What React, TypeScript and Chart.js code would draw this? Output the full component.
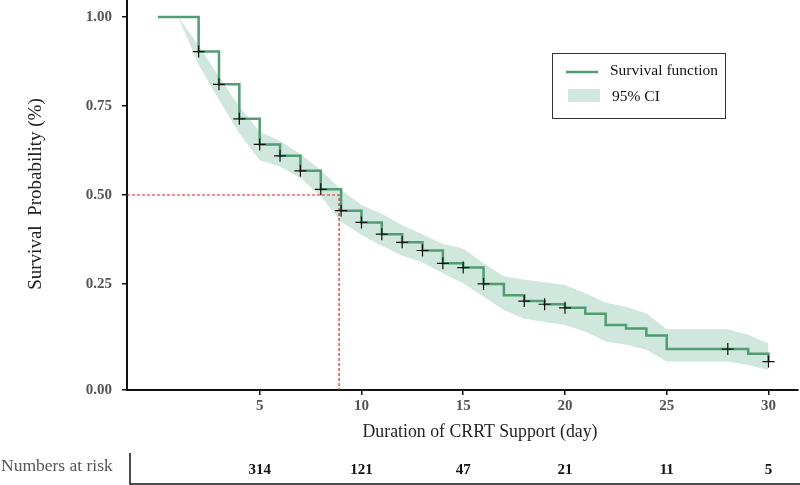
import React, { useEffect, useRef } from "react";
import { Chart, registerables } from "chart.js";
Chart.register(...registerables);

// ---- data ----
const stepDays = [0, 2, 3, 4, 5, 6, 7, 8, 9, 10, 11, 12, 13, 14, 15, 16, 17, 18, 19, 20, 21, 22, 23, 24, 25, 29, 30];
const survival = [1.0, 0.903, 0.811, 0.714, 0.642, 0.61, 0.568, 0.516, 0.456, 0.423, 0.39, 0.367, 0.344, 0.308, 0.296, 0.25, 0.218, 0.202, 0.193, 0.183, 0.166, 0.135, 0.125, 0.105, 0.067, 0.054, 0.032];

const censorDays = [2, 3, 4, 5, 6, 7, 8, 9, 10, 11, 12, 13, 14, 15, 16, 18, 19, 20, 28, 30];
const censorSurvival = [0.903, 0.811, 0.714, 0.642, 0.61, 0.568, 0.516, 0.456, 0.423, 0.39, 0.367, 0.344, 0.308, 0.296, 0.25, 0.202, 0.193, 0.183, 0.067, 0.032];

const ciDays = [0, 1, 2, 3, 4, 5, 6, 7, 8, 9, 10, 11, 12, 13, 14, 15, 16, 17, 18, 19, 20, 21, 22, 23, 24, 25, 28, 29, 30];
const ciUpper = [1.0, 1.0, 0.92, 0.832, 0.748, 0.678, 0.652, 0.615, 0.57, 0.515, 0.472, 0.447, 0.415, 0.39, 0.362, 0.35, 0.308, 0.272, 0.262, 0.255, 0.247, 0.224, 0.198, 0.186, 0.168, 0.123, 0.123, 0.107, 0.083];
const ciLower = [1.0, 1.0, 0.866, 0.768, 0.673, 0.598, 0.58, 0.548, 0.497, 0.425, 0.388, 0.357, 0.33, 0.31, 0.28, 0.252, 0.214, 0.177, 0.152, 0.143, 0.135, 0.116, 0.088, 0.079, 0.065, 0.032, 0.032, 0.022, 0.008];

const medianDay = 8.9;
const medianSurvival = 0.5;

const xTicks = [5, 10, 15, 20, 25, 30];
const yTicks = [0.25, 0.5, 0.75, 1.0];
const yBottomLabel = "0.00";

const riskDays = [5, 10, 15, 20, 25, 30];
const riskCounts = [314, 121, 47, 21, 11, 5];

const X_MIN = -1.52;
const X_MAX = 31.45;
const Y_MIN = -0.048;
const Y_MAX = 1.048;

const GREEN = "#529c73";
const BAND = "#cfe7dc";
const SERIF = "'Liberation Serif', 'Times New Roman', serif";

const overlayPlugin = {
  id: "overlay",
  afterDraw(chart: any) {
    const ctx = chart.ctx as CanvasRenderingContext2D;
    const xs = chart.scales.x;
    ctx.save();
    // y axis title
    ctx.save();
    ctx.translate(36, 194);
    ctx.rotate(-Math.PI / 2);
    ctx.font = `19px ${SERIF}`;
    ctx.fillStyle = "#222";
    ctx.textAlign = "center";
    ctx.textBaseline = "middle";
    ctx.fillText("Survival  Probability (%)", 0, 0);
    ctx.restore();

    // x axis title
    ctx.font = `17.8px ${SERIF}`;
    ctx.fillStyle = "#222";
    ctx.textAlign = "center";
    ctx.textBaseline = "middle";
    ctx.fillText("Duration of CRRT Support (day)", 480, 432);

    // risk table
    ctx.font = `17.5px ${SERIF}`;
    ctx.fillStyle = "#555";
    ctx.textAlign = "left";
    ctx.fillText("Numbers at risk", 1, 466);
    ctx.strokeStyle = "#111";
    ctx.lineWidth = 1.5;
    ctx.beginPath();
    ctx.moveTo(130, 453);
    ctx.lineTo(130, 484);
    ctx.lineTo(800, 484);
    ctx.stroke();
    ctx.font = `bold 15px ${SERIF}`;
    ctx.fillStyle = "#111";
    ctx.textAlign = "center";
    riskDays.forEach((d, i) => {
      ctx.fillText(String(riskCounts[i]), xs.getPixelForValue(d), 470);
    });

    // legend
    ctx.strokeStyle = "#333";
    ctx.lineWidth = 1;
    ctx.strokeRect(552.5, 53.5, 173, 65);
    ctx.strokeStyle = GREEN;
    ctx.lineWidth = 2.5;
    ctx.beginPath();
    ctx.moveTo(566, 72);
    ctx.lineTo(598, 72);
    ctx.stroke();
    ctx.fillStyle = BAND;
    ctx.fillRect(568, 89, 32, 13);
    ctx.font = `15.5px ${SERIF}`;
    ctx.fillStyle = "#111";
    ctx.textAlign = "left";
    ctx.fillText("Survival function", 610, 71);
    ctx.fillText("95% CI", 612, 97);
    ctx.restore();
  },
};

export default function App() {
  const ref = useRef<HTMLCanvasElement | null>(null);
  useEffect(() => {
    if (!ref.current) return;
    const chart = new Chart(ref.current, {
      type: "line",
      data: {
        datasets: [
          {
            label: "95% CI upper",
            data: ciDays.map((d, i) => ({ x: d, y: ciUpper[i] })),
            borderWidth: 0,
            borderColor: "rgba(0,0,0,0)",
            pointRadius: 0,
            fill: "+1",
            backgroundColor: BAND,
            order: 5,
          },
          {
            label: "95% CI lower",
            data: ciDays.map((d, i) => ({ x: d, y: ciLower[i] })),
            borderWidth: 0,
            borderColor: "rgba(0,0,0,0)",
            pointRadius: 0,
            fill: false,
            order: 6,
          },
          {
            label: "median",
            data: [
              { x: X_MIN, y: medianSurvival },
              { x: medianDay, y: medianSurvival },
              { x: medianDay, y: Y_MIN },
            ],
            borderColor: "#e8201a",
            borderWidth: 1.2,
            borderDash: [3, 2],
            pointRadius: 0,
            fill: false,
            order: 4,
          },
          {
            label: "Survival function",
            data: stepDays.map((d, i) => ({ x: d, y: survival[i] })),
            borderColor: GREEN,
            borderWidth: 2.5,
            stepped: true,
            pointRadius: 0,
            fill: false,
            order: 2,
          },
          {
            label: "censored",
            data: censorDays.map((d, i) => ({ x: d, y: censorSurvival[i] })),
            showLine: false,
            pointStyle: "cross",
            pointRadius: 6,
            borderColor: "#111",
            borderWidth: 1.2,
            order: 1,
          },
        ],
      },
      options: {
        responsive: false,
        animation: false,
        devicePixelRatio: 1,
        layout: { autoPadding: false, padding: { left: 0, right: 2, top: 0, bottom: 0 } },
        plugins: {
          legend: { display: false },
          tooltip: { enabled: false },
        },
        scales: {
          x: {
            type: "linear",
            min: X_MIN,
            max: X_MAX,
            afterBuildTicks: (s: any) => {
              s.ticks = xTicks.map((v) => ({ value: v }));
            },
            afterFit: (s: any) => {
              s.height = 95;
              s.paddingLeft = 0;
              s.paddingRight = 0;
            },
            ticks: {
              font: { family: SERIF, size: 15, weight: "bold" },
              color: "#555",
              padding: 2,
              maxRotation: 0,
              callback: (v: any) => String(v),
            },
            grid: { drawOnChartArea: false, tickLength: 5, color: "#111", lineWidth: 1.5 },
            border: { display: true, color: "#111", width: 2 },
          },
          y: {
            type: "linear",
            min: Y_MIN,
            max: Y_MAX,
            afterBuildTicks: (s: any) => {
              s.ticks = [Y_MIN, ...yTicks].map((v) => ({ value: v }));
            },
            afterFit: (s: any) => {
              s.width = 127;
              s.paddingTop = 0;
              s.paddingBottom = 0;
            },
            ticks: {
              font: { family: SERIF, size: 15, weight: "bold" },
              color: "#555",
              padding: 10,
              callback: (v: any) => (Number(v) < 0 ? yBottomLabel : Number(v).toFixed(2)),
            },
            grid: { drawOnChartArea: false, tickLength: 5, color: "#111", lineWidth: 1.5 },
            border: { display: true, color: "#111", width: 2 },
          },
        },
      },
      plugins: [overlayPlugin],
    });
    return () => chart.destroy();
  }, []);
  return (
    <div style={{ position: "fixed", left: 0, top: 0, width: 800, height: 485, background: "#fff" }}>
      <canvas ref={ref} width={800} height={485} style={{ display: "block" }} />
    </div>
  );
}
